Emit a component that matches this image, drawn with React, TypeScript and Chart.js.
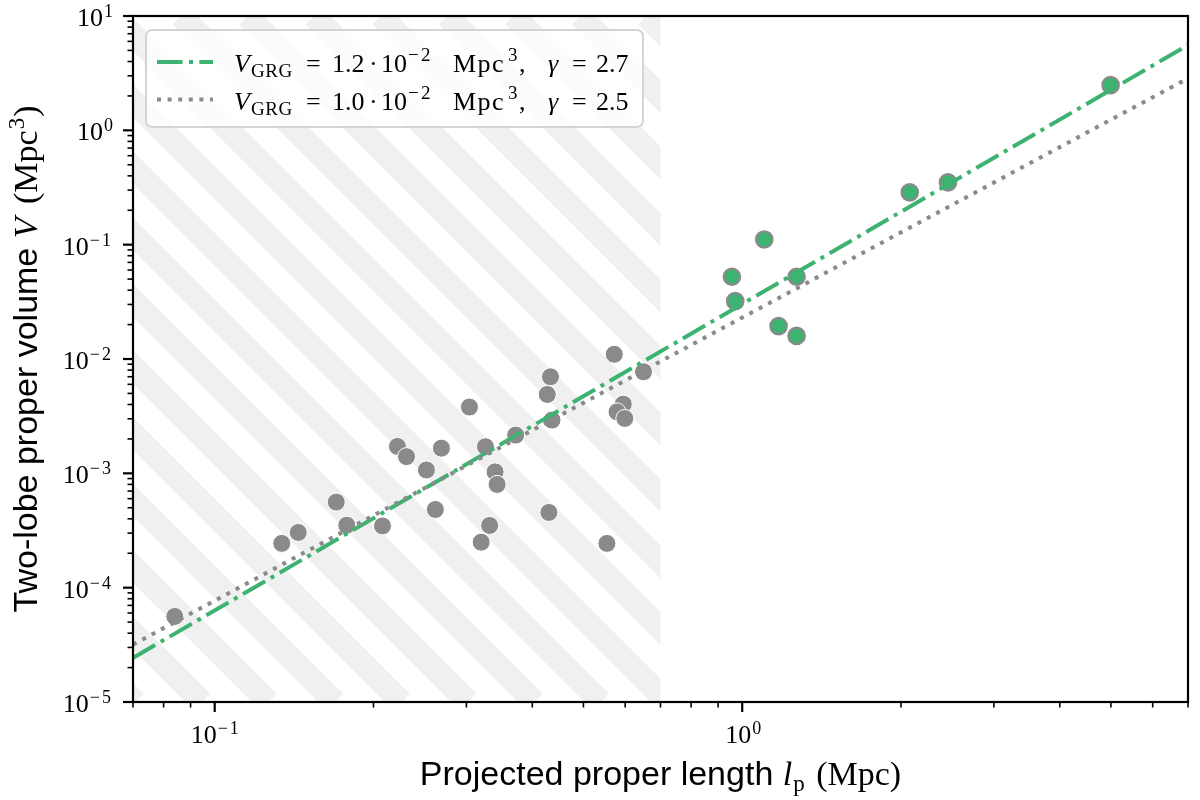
import { useEffect, useRef } from "react";
import { Chart, registerables } from "chart.js";

Chart.register(...registerables);

// Giant radio galaxies (green) : projected proper length l_p (Mpc), two-lobe volume V (Mpc^3)
const grgLength = [0.956, 0.97, 1.101, 1.268, 1.172, 1.268, 2.078, 2.455, 4.993];
const grgVolume = [5.24e-2, 3.21e-2, 1.11e-1, 5.24e-2, 1.94e-2, 1.59e-2, 2.87e-1, 3.51e-1, 2.49];

// Smaller radio galaxies (grey)
const rgLength = [
  0.084, 0.134, 0.144, 0.17, 0.178, 0.208, 0.222, 0.231, 0.252, 0.269, 0.262, 0.304, 0.326, 0.34,
  0.343, 0.332, 0.32, 0.372, 0.433, 0.427, 0.436, 0.43, 0.572, 0.65, 0.595, 0.579, 0.599, 0.554,
];
const rgVolume = [
  5.6e-5, 2.44e-4, 3.04e-4, 5.6e-4, 3.52e-4, 3.47e-4, 1.72e-3, 1.4e-3, 1.07e-3, 1.66e-3, 4.83e-4,
  3.8e-3, 1.71e-3, 1.03e-3, 8.0e-4, 3.5e-4, 2.5e-4, 2.16e-3, 6.99e-3, 4.9e-3, 2.92e-3, 4.55e-4,
  1.1e-2, 7.73e-3, 4.03e-3, 3.45e-3, 3.02e-3, 2.44e-4,
];

// fitted relations, read at both edges of the plot
const fitLength = [0.07, 7];
const fitVolumeA = [2.43e-5, 5.57]; // V_GRG = 1.2e-2, gamma = 2.7
const fitVolumeB = [3.18e-5, 2.85]; // V_GRG = 1.0e-2, gamma = 2.5

const legendCoeff = ["1.2", "1.0"];
const legendGamma = ["2.7", "2.5"];

const xRange = [0.07, 7];
const yRange = [1e-5, 10];
const hatchMax = 0.7;

const xMajorTicks = [0.1, 1];
const xMajorExp = ["\u22121", "0"];
const xMinorTicks = [0.07, 0.08, 0.09, 0.2, 0.3, 0.4, 0.5, 0.6, 0.7, 0.8, 0.9, 2, 3, 4, 5, 6, 7];
const yMajorTicks = [1e-5, 1e-4, 1e-3, 1e-2, 1e-1, 1, 10];
const yMajorExp = ["\u22125", "\u22124", "\u22123", "\u22122", "\u22121", "0", "1"];

const GREEN = "#3cb371";
const GREY = "#8a8a8a";
const HATCH = "#f0f0f0";
const SERIF = '"Liberation Serif", serif';
const SANS = '"Liberation Sans", sans-serif';

type Seg = { t: string; f: string; dy?: number; dx?: number; ls?: number };

const setSeg = (ctx: CanvasRenderingContext2D, s: Seg) => {
  ctx.font = s.f;
  (ctx as any).letterSpacing = `${s.ls || 0}px`;
};

const segWidth = (ctx: CanvasRenderingContext2D, segs: Seg[]) => {
  let w = 0;
  for (const s of segs) {
    setSeg(ctx, s);
    w += ctx.measureText(s.t).width + (s.dx || 0);
  }
  (ctx as any).letterSpacing = "0px";
  return w;
};

const drawSegs = (ctx: CanvasRenderingContext2D, segs: Seg[], x: number, y: number) => {
  let cx = x;
  for (const s of segs) {
    setSeg(ctx, s);
    cx += s.dx || 0;
    ctx.fillText(s.t, cx, y + (s.dy || 0));
    cx += ctx.measureText(s.t).width;
  }
  (ctx as any).letterSpacing = "0px";
};

const powerLabel = (exp: string): Seg[] => [
  { t: "10", f: `26px ${SERIF}` },
  { t: exp, f: `18px ${SERIF}`, dy: -9, dx: 1, ls: exp.length > 1 ? 2 : 0 },
];

const hatchPlugin = {
  id: "hatch",
  beforeDatasetsDraw(chart: Chart) {
    const { ctx, chartArea: a, scales } = chart;
    const xEnd = scales.x.getPixelForValue(hatchMax);
    const h = a.bottom - a.top;
    const period = 66.5;
    ctx.save();
    ctx.beginPath();
    ctx.rect(a.left, a.top, xEnd - a.left, h);
    ctx.clip();
    ctx.strokeStyle = HATCH;
    ctx.lineWidth = 23.5;
    for (let s = a.left - h - period * 2 + 2.5; s < xEnd + period; s += period) {
      ctx.beginPath();
      ctx.moveTo(s, a.top);
      ctx.lineTo(s + h, a.bottom);
      ctx.stroke();
    }
    ctx.restore();
  },
};

const axesPlugin = {
  id: "axesFrame",
  afterDatasetsDraw(chart: Chart) {
    const { ctx, chartArea: a, scales } = chart;
    const xs = scales.x;
    const ys = scales.y;
    ctx.save();
    ctx.strokeStyle = "#000";
    ctx.fillStyle = "#000";

    // ticks
    const tick = (x1: number, y1: number, x2: number, y2: number, w: number) => {
      ctx.lineWidth = w;
      ctx.beginPath();
      ctx.moveTo(x1, y1);
      ctx.lineTo(x2, y2);
      ctx.stroke();
    };
    xMinorTicks.forEach((v) => {
      const px = xs.getPixelForValue(v);
      tick(px, a.bottom, px, a.bottom + 5.5, 1.6);
    });
    xMajorTicks.forEach((v) => {
      const px = xs.getPixelForValue(v);
      tick(px, a.bottom, px, a.bottom + 10, 2.2);
    });
    for (let d = 0; d < yMajorTicks.length - 1; d++) {
      for (let m = 2; m <= 9; m++) {
        const py = ys.getPixelForValue(yMajorTicks[d] * m);
        tick(a.left, py, a.left - 5.5, py, 1.6);
      }
    }
    yMajorTicks.forEach((v) => {
      const py = ys.getPixelForValue(v);
      tick(a.left, py, a.left - 10, py, 2.2);
    });

    // frame
    ctx.lineWidth = 2.2;
    ctx.strokeRect(a.left, a.top, a.right - a.left, a.bottom - a.top);

    // tick labels
    ctx.textBaseline = "alphabetic";
    ctx.textAlign = "left";
    xMajorTicks.forEach((v, i) => {
      const segs = powerLabel(xMajorExp[i]);
      const w = segWidth(ctx, segs);
      drawSegs(ctx, segs, xs.getPixelForValue(v) - w / 2 + 1, a.bottom + 41);
    });
    yMajorTicks.forEach((v, i) => {
      const segs = powerLabel(yMajorExp[i]);
      const w = segWidth(ctx, segs);
      drawSegs(ctx, segs, a.left - 20 - w, ys.getPixelForValue(v) + 10);
    });

    // axis titles
    const xTitle: Seg[] = [
      { t: "Projected proper length ", f: `34px ${SANS}` },
      { t: "l", f: `italic 34px ${SERIF}` },
      { t: "p", f: `23px ${SERIF}`, dy: 6, dx: 1 },
      { t: " (Mpc)", f: `34px ${SERIF}`, dx: 3 },
    ];
    const xw = segWidth(ctx, xTitle);
    drawSegs(ctx, xTitle, (a.left + a.right) / 2 - xw / 2, a.bottom + 83);

    const yTitle: Seg[] = [
      { t: "Two-lobe proper volume ", f: `34px ${SANS}` },
      { t: "V", f: `italic 34px ${SERIF}` },
      { t: " (Mpc", f: `34px ${SERIF}`, dx: 5 },
      { t: "3", f: `23px ${SERIF}`, dy: -13, dx: 1 },
      { t: ")", f: `34px ${SERIF}`, dx: 1 },
    ];
    const yw = segWidth(ctx, yTitle);
    ctx.translate(37, (a.top + a.bottom) / 2);
    ctx.rotate(-Math.PI / 2);
    drawSegs(ctx, yTitle, -yw / 2, 0);
    ctx.restore();
  },
};

const legendPlugin = {
  id: "mathLegend",
  afterDatasetsDraw(chart: Chart) {
    const { ctx, chartArea: a } = chart;
    const bx = a.left + 13;
    const by = a.top + 14;
    const bw = 497;
    const bh = 97;
    ctx.save();
    ctx.beginPath();
    ctx.roundRect(bx, by, bw, bh, 6);
    ctx.fillStyle = "rgba(255,255,255,0.8)";
    ctx.fill();
    ctx.strokeStyle = "#d4d4d4";
    ctx.lineWidth = 2;
    ctx.stroke();

    const rows = [
      { color: GREEN, dash: [25.6, 6.4, 4, 6.4] },
      { color: GREY, dash: [4, 6.6] },
    ];
    rows.forEach((r, i) => {
      const cy = by + 32 + i * 37.5;
      ctx.strokeStyle = r.color;
      ctx.lineWidth = 4;
      ctx.setLineDash(r.dash);
      ctx.beginPath();
      ctx.moveTo(bx + 11, cy);
      ctx.lineTo(bx + 67, cy);
      ctx.stroke();
      ctx.setLineDash([]);

      const tx = bx + 88;
      const base = cy + 10;
      const big = `26px ${SERIF}`;
      const small = `19px ${SERIF}`;
      // [text, font, x offset, baseline shift, letter spacing]
      const parts: [string, string, number, number, number][] = [
        ["V", `italic ${big}`, 0, 0, 0],
        ["GRG", small, 17, 5, 0.5],
        ["=", big, 72, 0, 0],
        [legendCoeff[i], big, 98, 0, 0],
        ["\u00b7", big, 135, 0, 0],
        ["10", big, 147, 0, 0],
        ["\u2212", small, 174, -11, 0],
        ["2", small, 187, -11, 0],
        ["Mpc", big, 219, 0, 1.5],
        ["3", small, 274, -11, 0],
        [",", big, 285, 0, 0],
        ["\u03b3", `italic ${big}`, 314, 0, 0],
        ["=", big, 338, 0, 0],
        [legendGamma[i], big, 362, 0, 0],
      ];
      ctx.fillStyle = "#000";
      parts.forEach(([t, f, dx, dy, ls]) => {
        ctx.font = f;
        (ctx as any).letterSpacing = `${ls}px`;
        ctx.fillText(t, tx + dx, base + dy);
      });
      (ctx as any).letterSpacing = "0px";
    });
    ctx.restore();
  },
};

export default function App() {
  const canvasRef = useRef<HTMLCanvasElement>(null);

  useEffect(() => {
    if (!canvasRef.current) return;
    const chart = new Chart(canvasRef.current, {
      type: "scatter",
      data: {
        datasets: [
          {
            label: "fit B",
            data: fitLength.map((x, i) => ({ x, y: fitVolumeB[i] })),
            showLine: true,
            borderColor: GREY,
            borderWidth: 4,
            borderDash: [4, 6.6],
            borderCapStyle: "butt",
            pointRadius: 0,
            order: 0,
          },
          {
            label: "fit A",
            data: fitLength.map((x, i) => ({ x, y: fitVolumeA[i] })),
            showLine: true,
            borderColor: GREEN,
            borderWidth: 4,
            borderDash: [25.6, 6.4, 4, 6.4],
            borderCapStyle: "butt",
            pointRadius: 0,
            order: 1,
          },
          {
            label: "GRG",
            data: grgLength.map((x, i) => ({ x, y: grgVolume[i] })),
            backgroundColor: GREEN,
            borderColor: GREY,
            borderWidth: 2.3,
            pointRadius: 8.2,
            order: 2,
          },
          {
            label: "RG",
            data: rgLength.map((x, i) => ({ x, y: rgVolume[i] })),
            backgroundColor: GREY,
            borderColor: "#ffffff",
            borderWidth: 1,
            pointRadius: 9,
            order: 3,
          },
        ],
      },
      options: {
        animation: false,
        responsive: true,
        maintainAspectRatio: false,
        events: [],
        layout: { padding: { left: 133, right: 12, top: 16, bottom: 98 } },
        scales: {
          x: { type: "logarithmic", min: xRange[0], max: xRange[1], display: false },
          y: { type: "logarithmic", min: yRange[0], max: yRange[1], display: false },
        },
        plugins: { legend: { display: false }, tooltip: { enabled: false } },
      },
      plugins: [hatchPlugin, axesPlugin, legendPlugin],
    });
    return () => chart.destroy();
  }, []);

  return (
    <div style={{ position: "absolute", left: 0, top: 0, width: 1200, height: 800, background: "#fff" }}>
      <canvas ref={canvasRef} />
    </div>
  );
}
